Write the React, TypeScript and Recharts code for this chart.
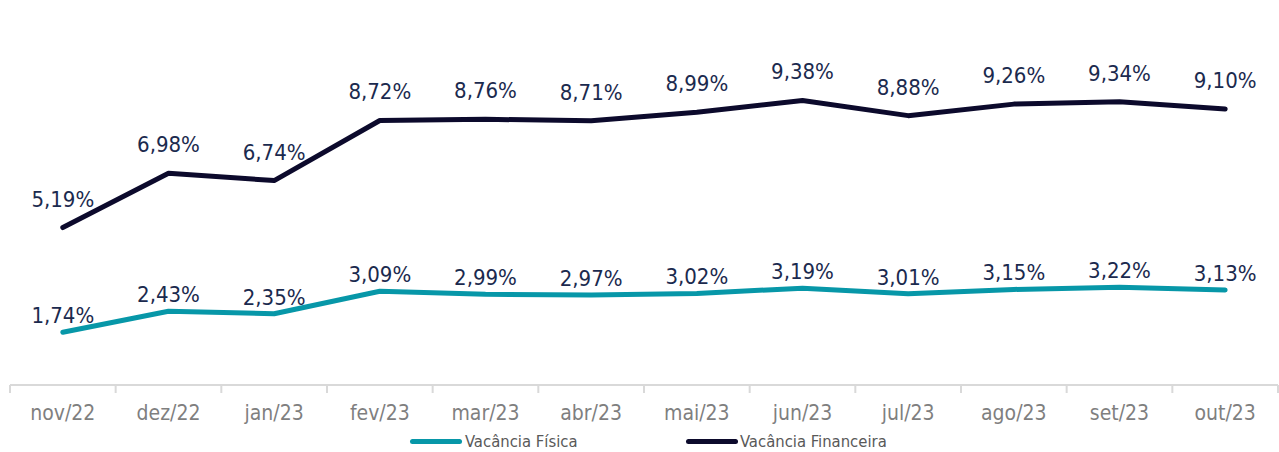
import React from 'react';
import { ComposedChart, Line, XAxis, YAxis, LabelList, Legend } from 'recharts';

const months = ['nov/22', 'dez/22', 'jan/23', 'fev/23', 'mar/23', 'abr/23', 'mai/23', 'jun/23', 'jul/23', 'ago/23', 'set/23', 'out/23'];
const vacanciaFisica = [1.74, 2.43, 2.35, 3.09, 2.99, 2.97, 3.02, 3.19, 3.01, 3.15, 3.22, 3.13];
const vacanciaFinanceira = [5.19, 6.98, 6.74, 8.72, 8.76, 8.71, 8.99, 9.38, 8.88, 9.26, 9.34, 9.10];
// category boundaries (0 = left edge of first month, 12 = right edge of last month)
const boundaryTicks = [0, 1, 2, 3, 4, 5, 6, 7, 8, 9, 10, 11, 12];

const data = months.map((m, i) => ({ month: m, fisica: vacanciaFisica[i], financeira: vacanciaFinanceira[i] }));

const FONT = "'DejaVu Sans Condensed', 'DejaVu Sans', sans-serif";
const TEAL = '#0797a8';
const NAVY = '#0c0a2c';
const LABEL = '#1b2a4e';

const fmt = (v: any) => Number(v).toFixed(2).replace('.', ',') + '%';

const EmptyTick = () => <g />;

const LegendContent = () => (
  <div style={{ position: 'relative', height: 22, fontFamily: FONT, fontSize: 16.5, color: '#595959' }}>
    <div style={{ position: 'absolute', left: 400, top: 0, display: 'flex', alignItems: 'center', height: 22 }}>
      <span style={{ display: 'inline-block', width: 52, height: 5, borderRadius: 3, background: TEAL, marginRight: 3 }} />
      <span>Vacância Física</span>
    </div>
    <div style={{ position: 'absolute', left: 676, top: 0, display: 'flex', alignItems: 'center', height: 22 }}>
      <span style={{ display: 'inline-block', width: 52, height: 5, borderRadius: 3, background: NAVY, marginRight: 2 }} />
      <span>Vacância Financeira</span>
    </div>
  </div>
);

export default function App() {
  return (
    <div style={{ position: 'absolute', left: 0, top: 0, width: 1279, height: 452, background: '#fff' }}>
      <ComposedChart width={1279} height={452} data={data} margin={{ top: 21, right: 1, bottom: 0, left: 10 }}>
        <XAxis
          xAxisId="b"
          dataKey="month"
          scale="band"
          axisLine={false}
          tickLine={false}
          tickSize={0}
          tickMargin={10}
          interval={0}
          height={35}
          tick={{ fill: '#7f7f7f', fontSize: 21, fontFamily: FONT }}
        />
        <XAxis
          xAxisId="a"
          type="number"
          dataKey={() => 0}
          domain={[0, 12]}
          ticks={boundaryTicks}
          allowDataOverflow
          interval={0}
          tick={<EmptyTick />}
          tickSize={8}
          tickLine={{ stroke: '#d9d9d9', strokeWidth: 2 }}
          axisLine={{ stroke: '#d9d9d9', strokeWidth: 2 }}
          height={10}
        />
        <YAxis hide domain={[0, 12]} />
        <Legend verticalAlign="bottom" content={<LegendContent />} />
        <Line
          xAxisId="b"
          dataKey="financeira"
          stroke={NAVY}
          strokeWidth={5}
          dot={false}
          isAnimationActive={false}
          strokeLinecap="round"
          strokeLinejoin="round"
        >
          <LabelList dataKey="financeira" position="top" offset={21} formatter={fmt} fill={LABEL} fontSize={22} fontFamily={FONT} />
        </Line>
        <Line
          xAxisId="b"
          dataKey="fisica"
          stroke={TEAL}
          strokeWidth={5}
          dot={false}
          isAnimationActive={false}
          strokeLinecap="round"
          strokeLinejoin="round"
        >
          <LabelList dataKey="fisica" position="top" offset={9} formatter={fmt} fill={LABEL} fontSize={22} fontFamily={FONT} />
        </Line>
      </ComposedChart>
    </div>
  );
}
